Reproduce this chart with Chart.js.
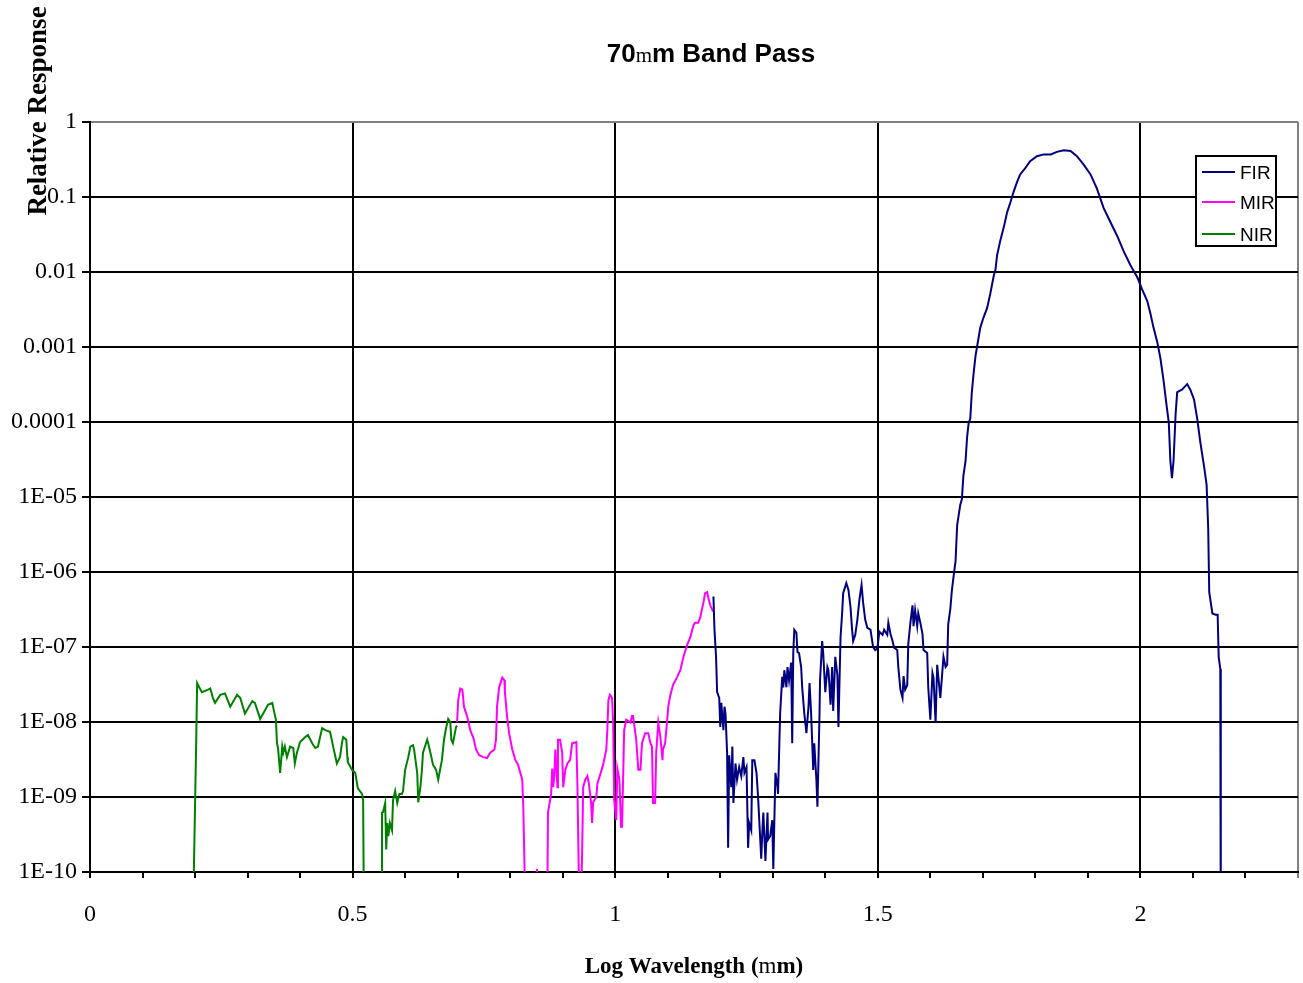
<!DOCTYPE html>
<html><head><meta charset="utf-8">
<script src="https://cdn.jsdelivr.net/npm/chart.js@4/dist/chart.umd.min.js"></script>
<style>html,body{margin:0;padding:0;background:#fff;}canvas{display:block;}</style>
</head><body>
<canvas id="c" width="1303" height="983"></canvas>
<script>
// ---- data (x = log10 wavelength in µm, y = relative response) ----
const xTickValues = [0, 0.5, 1, 1.5, 2];
const xTickLabels = ['0', '0.5', '1', '1.5', '2'];
const yTickValues = [1e-10, 1e-9, 1e-8, 1e-7, 1e-6, 1e-5, 1e-4, 1e-3, 1e-2, 1e-1, 1];
const yTickLabels = ['1E-10', '1E-09', '1E-08', '1E-07', '1E-06', '1E-05', '0.0001', '0.001', '0.01', '0.1', '1'];
const seriesNames = ['FIR', 'MIR', 'NIR'];
const seriesColors = ['#000080', '#FF00FF', '#008000'];

const nirX = [0.196,0.198,0.202,0.204,0.208,0.213,0.225,0.229,0.234,0.238,0.248,0.257,0.267,0.280,0.286,0.295,0.309,0.314,0.324,0.339,0.347,0.354,0.356,0.358,0.362,0.366,0.368,0.371,0.375,0.381,0.387,0.390,0.394,0.400,0.410,0.415,0.423,0.429,0.434,0.442,0.448,0.457,0.463,0.470,0.476,0.480,0.482,0.488,0.490,0.491,0.499,0.505,0.510,0.518,0.520,0.522,0.556,0.556,0.558,0.562,0.564,0.566,0.568,0.571,0.575,0.577,0.581,0.585,0.589,0.594,0.596,0.600,0.606,0.610,0.615,0.617,0.623,0.625,0.629,0.632,0.634,0.642,0.644,0.650,0.653,0.659,0.663,0.670,0.674,0.678,0.682,0.686,0.688,0.691,0.697,0.699];
const nirY = [1e-11,1.3e-10,4.5e-9,3.3e-8,2.9e-8,2.5e-8,2.7e-8,2.8e-8,2.1e-8,1.8e-8,2.3e-8,2.4e-8,1.6e-8,2.3e-8,2.1e-8,1.3e-8,1.9e-8,1.8e-8,1.1e-8,1.7e-8,1.8e-8,1.07e-8,5.2e-9,4.5e-9,2.1e-9,4.7e-9,3.9e-9,4.7e-9,3.4e-9,4.7e-9,4.5e-9,2.8e-9,3.9e-9,5.4e-9,6.3e-9,6.7e-9,5.2e-9,4.5e-9,4.7e-9,8.3e-9,7.8e-9,7.4e-9,4.7e-9,2.8e-9,3.4e-9,5.4e-9,6.3e-9,5.8e-9,3.4e-9,2.9e-9,2.3e-9,2.1e-9,1.3e-9,1.1e-9,9.1e-10,1e-11,1e-11,6.2e-10,6.3e-10,8.3e-10,2e-10,4.5e-10,3e-10,4.5e-10,3.6e-10,9.1e-10,1.2e-9,8.3e-10,1.1e-9,1.1e-9,1.2e-9,2.3e-9,3.4e-9,4.7e-9,4.9e-9,4.3e-9,2.1e-9,8.5e-10,1.35e-9,2.3e-9,3.9e-9,5.8e-9,5.2e-9,3.4e-9,2.7e-9,2.3e-9,1.7e-9,3.1e-9,5.8e-9,8.3e-9,1.1e-8,1e-8,5.8e-9,5.2e-9,8.6e-9,8.9e-9];

const mirX = [0.699,0.701,0.705,0.709,0.712,0.718,0.724,0.730,0.735,0.741,0.749,0.756,0.762,0.770,0.773,0.775,0.779,0.785,0.789,0.790,0.794,0.798,0.804,0.810,0.815,0.823,0.825,0.827,0.830,0.849,0.851,0.853,0.870,0.872,0.878,0.880,0.882,0.884,0.886,0.890,0.891,0.895,0.899,0.901,0.905,0.909,0.914,0.918,0.926,0.928,0.930,0.933,0.937,0.939,0.943,0.947,0.950,0.954,0.956,0.958,0.964,0.966,0.971,0.977,0.983,0.985,0.987,0.990,0.994,0.996,0.998,1.002,1.004,1.008,1.011,1.013,1.017,1.021,1.029,1.032,1.034,1.040,1.044,1.048,1.051,1.057,1.063,1.067,1.070,1.072,1.076,1.078,1.082,1.086,1.090,1.091,1.095,1.099,1.101,1.105,1.110,1.118,1.124,1.130,1.137,1.143,1.149,1.152,1.158,1.162,1.166,1.168,1.171,1.175,1.177,1.181,1.185,1.187];
const mirY = [1e-8,1.95e-8,2.8e-8,2.7e-8,1.6e-8,1.2e-8,7.8e-9,6.1e-9,4.3e-9,3.6e-9,3.4e-9,3.3e-9,3.9e-9,4.3e-9,5.8e-9,1.6e-8,2.9e-8,3.9e-8,3.6e-8,2.5e-8,1.2e-8,7.1e-9,4.3e-9,3.1e-9,2.7e-9,1.7e-9,7.4e-10,1.5e-10,1e-11,1e-11,1.1e-10,1e-11,1e-11,6.2e-10,1.1e-9,2.4e-9,1.35e-9,1.9e-9,4.3e-9,1.35e-9,5.8e-9,5.8e-9,3.9e-9,1.35e-9,2.3e-9,2.8e-9,3.1e-9,5.2e-9,5.4e-9,1.5e-9,1.8e-10,1e-11,1.8e-10,1.35e-9,1.7e-9,1.9e-9,1.5e-9,8.5e-10,4.5e-10,8.5e-10,1e-9,1.5e-9,1.95e-9,2.7e-9,4.3e-9,7.8e-9,1.95e-8,2.3e-8,2.1e-8,9.8e-9,9.1e-10,4.9e-10,2.4e-9,1.7e-9,4e-10,4e-10,7.8e-9,1.07e-8,9.8e-9,1.2e-8,1.2e-8,5.8e-9,2.3e-9,2.3e-9,5.2e-9,7.1e-9,7.1e-9,5.2e-9,4.7e-9,8.3e-10,8.3e-10,3.9e-9,9.8e-9,6.3e-9,3.1e-9,4.3e-9,5.2e-9,1.07e-8,1.6e-8,2.3e-8,3.1e-8,4e-8,4.9e-8,7.4e-8,1.07e-7,1.35e-7,1.95e-7,2.1e-7,2.1e-7,2.5e-7,3.4e-7,3.9e-7,5.2e-7,5.4e-7,4.6e-7,3.6e-7,3.1e-7,3e-7];

const firX = [1.187,1.189,1.192,1.194,1.198,1.200,1.202,1.206,1.208,1.210,1.213,1.215,1.217,1.221,1.223,1.225,1.229,1.232,1.236,1.240,1.244,1.246,1.250,1.253,1.255,1.259,1.261,1.265,1.269,1.272,1.278,1.280,1.282,1.286,1.290,1.291,1.295,1.299,1.301,1.305,1.309,1.310,1.314,1.318,1.320,1.322,1.326,1.328,1.331,1.335,1.337,1.339,1.341,1.345,1.347,1.350,1.354,1.356,1.360,1.364,1.368,1.370,1.373,1.377,1.379,1.383,1.385,1.389,1.390,1.394,1.396,1.400,1.404,1.406,1.410,1.413,1.415,1.419,1.423,1.425,1.429,1.432,1.434,1.440,1.444,1.448,1.451,1.453,1.457,1.461,1.465,1.469,1.472,1.476,1.480,1.486,1.491,1.495,1.499,1.503,1.509,1.512,1.518,1.520,1.524,1.528,1.531,1.537,1.539,1.543,1.547,1.549,1.552,1.556,1.558,1.562,1.566,1.568,1.571,1.575,1.577,1.581,1.585,1.587,1.594,1.596,1.600,1.604,1.606,1.610,1.613,1.619,1.625,1.629,1.632,1.634,1.638,1.641,1.644,1.648,1.651,1.657,1.660,1.663,1.667,1.670,1.673,1.676,1.679,1.682,1.686,1.689,1.692,1.695,1.701,1.708,1.714,1.721,1.724,1.727,1.733,1.740,1.746,1.752,1.759,1.765,1.771,1.781,1.790,1.803,1.816,1.829,1.841,1.854,1.867,1.879,1.892,1.905,1.917,1.930,1.943,1.956,1.968,1.981,1.994,2.003,2.013,2.019,2.025,2.032,2.038,2.044,2.050,2.054,2.057,2.060,2.063,2.067,2.070,2.079,2.089,2.095,2.102,2.108,2.114,2.121,2.126,2.129,2.131,2.137,2.143,2.147,2.149,2.152,2.153];
const firY = [4.7e-7,1.7e-7,7.4e-8,2.5e-8,2.1e-8,8.6e-9,1.8e-8,7.8e-9,1.6e-8,1.3e-8,3.9e-9,2.1e-10,3.6e-9,1.35e-9,4.7e-9,8.3e-10,2.8e-9,1.7e-9,2.5e-9,1.9e-9,3.4e-9,2.1e-9,2.5e-9,2.1e-10,4.5e-10,3.6e-10,3.1e-9,3.1e-9,2.1e-9,1e-9,1.5e-10,3.3e-10,6.2e-10,1.4e-10,6.2e-10,2.7e-10,3e-10,4.9e-10,1.1e-10,2.1e-9,1.35e-9,1.1e-9,1.3e-8,4e-8,2.9e-8,4.9e-8,2.9e-8,5.4e-8,3.6e-8,6.2e-8,5.2e-9,8.3e-8,1.7e-7,1.55e-7,8.6e-8,8.3e-8,5.4e-8,2.9e-8,1.3e-8,7.1e-9,1.6e-8,3.3e-8,1.3e-8,2.3e-9,5.2e-9,1.7e-9,7.4e-10,1.3e-8,3.6e-8,1.2e-7,8.3e-8,2.5e-8,5.4e-8,4.9e-8,1.7e-8,5.4e-8,1.4e-8,7.4e-8,4.2e-8,8.6e-9,1.35e-7,2.8e-7,5.2e-7,7.1e-7,5.8e-7,3.4e-7,1.7e-7,1.2e-7,1.45e-7,2.3e-7,4.3e-7,6.7e-7,3.9e-7,2.3e-7,1.8e-7,1.7e-7,1e-7,9.1e-8,9.5e-8,1.6e-7,1.45e-7,1.7e-7,1.45e-7,2.1e-7,1.5e-7,1.2e-7,9.8e-8,9.1e-8,5.4e-8,2.7e-8,2.1e-8,4.1e-8,2.7e-8,3.1e-8,1.1e-7,2.1e-7,3.6e-7,1.9e-7,3.1e-7,1.9e-7,2.8e-7,2.1e-7,1.5e-7,9.1e-8,8.3e-8,2.9e-8,1.07e-8,4.5e-8,3.9e-8,9.8e-9,5.8e-8,2.1e-8,7.4e-8,5.4e-8,5.8e-8,2e-7,3.2e-7,5.7e-7,8.5e-7,1.4e-6,4.2e-6,7.9e-6,9.3e-6,1.95e-5,3e-5,6.3e-5,9.8e-5,1.1e-4,2.5e-4,4.2e-4,7.6e-4,1.02e-3,1.35e-3,1.8e-3,2.45e-3,3.3e-3,5.1e-3,9.1e-3,1.07e-2,1.66e-2,2.6e-2,4e-2,6.2e-2,8.3e-2,0.12,0.158,0.2,0.245,0.3,0.35,0.37,0.37,0.4,0.42,0.41,0.35,0.27,0.2,0.13,0.071,0.046,0.03,0.019,0.0123,0.0085,0.0059,0.0041,0.0028,0.0018,0.00117,0.00071,0.00036,0.000162,9.8e-5,3e-5,1.78e-5,3e-5,1.29e-4,2.5e-4,2.7e-4,3.2e-4,2.7e-4,2e-4,1.12e-4,5.4e-5,2.6e-5,1.45e-5,3.9e-6,5.4e-7,2.8e-7,2.7e-7,2.7e-7,7.4e-8,5.1e-8,1e-11];

const titleParts = [['70', 'bold 26px "Liberation Sans"'], ['m', '21px "Liberation Serif"'], ['m Band Pass', 'bold 26px "Liberation Sans"']];
const xTitleParts = [['Log Wavelength (', 'bold 23px "Liberation Serif"'], ['m', '23px "Liberation Serif"'], ['m)', 'bold 23px "Liberation Serif"']];
const yTitleText = 'Relative Response';

// ---- helpers ----
const toPoints = (xs, ys) => xs.map((x, i) => ({ x: x, y: ys[i] }));
const near = (a, b) => Math.abs(a - b) < 1e-6;
const xLabelFor = v => { const i = xTickValues.findIndex(t => near(t, v)); return i >= 0 ? xTickLabels[i] : ''; };

function drawParts(ctx, parts, cx, baseline) {
  let total = 0;
  parts.forEach(p => { ctx.font = p[1]; total += ctx.measureText(p[0]).width; });
  let x = cx - total / 2;
  ctx.textAlign = 'left';
  ctx.textBaseline = 'alphabetic';
  parts.forEach(p => { ctx.font = p[1]; ctx.fillText(p[0], x, baseline); x += ctx.measureText(p[0]).width; });
}

const decor = {
  id: 'decor',
  afterDraw(chart) {
    const ctx = chart.ctx;
    ctx.save();
    ctx.fillStyle = '#000';
    drawParts(ctx, titleParts, 711, 62);
    drawParts(ctx, xTitleParts, 694, 973);
    ctx.save();
    ctx.translate(46, 111);
    ctx.rotate(-Math.PI / 2);
    ctx.font = 'bold 27px "Liberation Serif"';
    ctx.textAlign = 'center';
    ctx.textBaseline = 'alphabetic';
    ctx.fillText(yTitleText, 0, 0);
    ctx.restore();
    // legend box
    ctx.fillStyle = '#fff';
    ctx.fillRect(1196, 156, 80, 90);
    ctx.strokeStyle = '#000';
    ctx.lineWidth = 2;
    ctx.strokeRect(1196, 156, 80, 90);
    const rowY = [172, 202, 234];
    chart.data.datasets.forEach((ds, i) => {
      ctx.strokeStyle = ds.borderColor;
      ctx.lineWidth = 2;
      ctx.beginPath();
      ctx.moveTo(1202, rowY[i]);
      ctx.lineTo(1235, rowY[i]);
      ctx.stroke();
      ctx.fillStyle = '#000';
      ctx.font = '19px "Liberation Sans"';
      ctx.textAlign = 'left';
      ctx.textBaseline = 'alphabetic';
      ctx.fillText(ds.label, 1240, rowY[i] + 7);
    });
    ctx.restore();
  }
};

const ys = [firY, mirY, nirY];
const xs = [firX, mirX, nirX];
new Chart(document.getElementById('c'), {
  type: 'line',
  data: {
    datasets: seriesNames.map((n, i) => ({
      label: n,
      data: toPoints(xs[i], ys[i]),
      borderColor: seriesColors[i],
      backgroundColor: seriesColors[i],
      borderWidth: 2,
      pointRadius: 0,
      tension: 0,
      fill: false
    }))
  },
  options: {
    responsive: false,
    animation: false,
    devicePixelRatio: 1,
    layout: { padding: { left: 0, right: 5, top: 122, bottom: 0 } },
    plugins: { legend: { display: false }, title: { display: false }, tooltip: { enabled: false } },
    scales: {
      x: {
        type: 'linear', min: 0, max: 2.3,
        afterFit: s => { s.height = 111; s.paddingRight = 0; s.paddingLeft = 0; },
        ticks: {
          stepSize: 0.1, autoSkip: false, maxRotation: 0, minRotation: 0, padding: 22,
          color: '#000', font: { family: 'Liberation Serif', size: 24 },
          callback: v => xLabelFor(v)
        },
        grid: {
          lineWidth: 2, tickLength: 6,
          color: c => { const v = c.tick ? c.tick.value : 0; if (near(v, 2.3)) return '#808080'; return near(v * 2, Math.round(v * 2)) ? '#000' : 'rgba(0,0,0,0)'; },
          tickColor: c => (c.tick && near(c.tick.value, 2.3)) ? '#808080' : '#000'
        },
        border: { display: true, color: '#000', width: 2 }
      },
      y: {
        type: 'logarithmic', min: 1e-10, max: 1,
        afterFit: s => { s.width = 90; },
        afterBuildTicks: s => { s.ticks = yTickValues.map(v => ({ value: v })); },
        ticks: {
          color: '#000', font: { family: 'Liberation Serif', size: 24 }, padding: 5,
          callback: (v, i) => yTickLabels[i]
        },
        grid: {
          lineWidth: 2, tickLength: 8,
          color: c => (c.tick && near(Math.log10(c.tick.value), 0)) ? '#808080' : '#000',
          tickColor: '#000'
        },
        border: { display: true, color: '#000', width: 2 }
      }
    }
  },
  plugins: [decor]
});
</script>
</body></html>
